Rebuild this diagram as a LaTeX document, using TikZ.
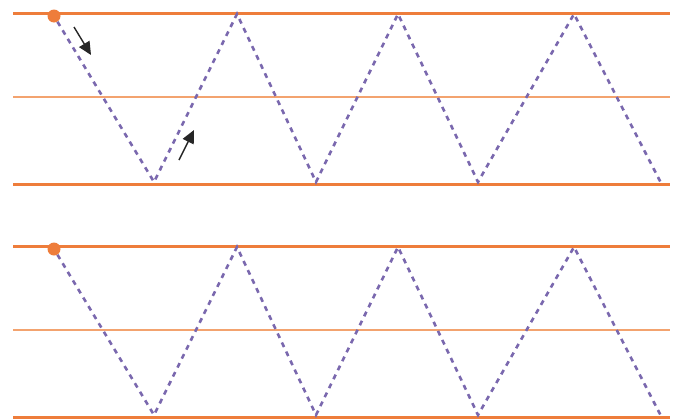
\documentclass[tikz,border=0pt]{standalone}
\usepackage{xcolor}
\usepackage{tikz}
\usetikzlibrary{arrows.meta}

\definecolor{wallorange}{HTML}{EE7D3B}
\definecolor{midorange}{HTML}{F3A36F}
\definecolor{raypurple}{HTML}{7A68AE}
\definecolor{arrowgray}{HTML}{262626}

\tikzset{
  wall/.style={draw=wallorange, line width=3pt},
  midline/.style={draw=midorange, line width=1.5pt},
  ray/.style={draw=raypurple, line width=2.6pt, dash pattern=on 5pt off 5pt},
  source/.style={circle, fill=wallorange, inner sep=0pt, minimum size=13pt},
  dirarrow/.style={draw=arrowgray, line width=1.4pt, -{Triangle[length=13pt,width=12pt]}, fill=arrowgray}
}

\begin{document}
\begin{tikzpicture}[x=1pt,y=-1pt]
	\useasboundingbox (0,0) rectangle (675,418);
	
	% two waveguides, same zigzag
	\foreach \dy/\p in {0/a,233/b} {
		\draw[wall] (13,13.5+\dy) -- (670,13.5+\dy);
		\draw[midline] (13,97+\dy) -- (670,97+\dy);
		\draw[wall] (13,184+\dy) -- (670,184+\dy);
		
		\node[source] (src\p) at (54,16+\dy) {};
		\coordinate (b1\p) at (154,182+\dy);
		\coordinate (t1\p) at (237,14+\dy);
		\coordinate (b2\p) at (316,182+\dy);
		\coordinate (t2\p) at (398,14+\dy);
		\coordinate (b3\p) at (478,182+\dy);
		\coordinate (t3\p) at (574,14+\dy);
		\coordinate (end\p) at (661,183+\dy);
		
		\draw[ray] (src\p) -- (b1\p) -- (t1\p) -- (b2\p) -- (t2\p) -- (b3\p) -- (t3\p) -- (end\p);
	}
	
	% direction of travel
	\coordinate (in0) at (74,27);
	\coordinate (in1) at (91,55);
	\coordinate (out0) at (179,160);
	\coordinate (out1) at (194,130);
	\draw[dirarrow] (in0) -- (in1);
	\draw[dirarrow] (out0) -- (out1);
\end{tikzpicture}
\end{document}
